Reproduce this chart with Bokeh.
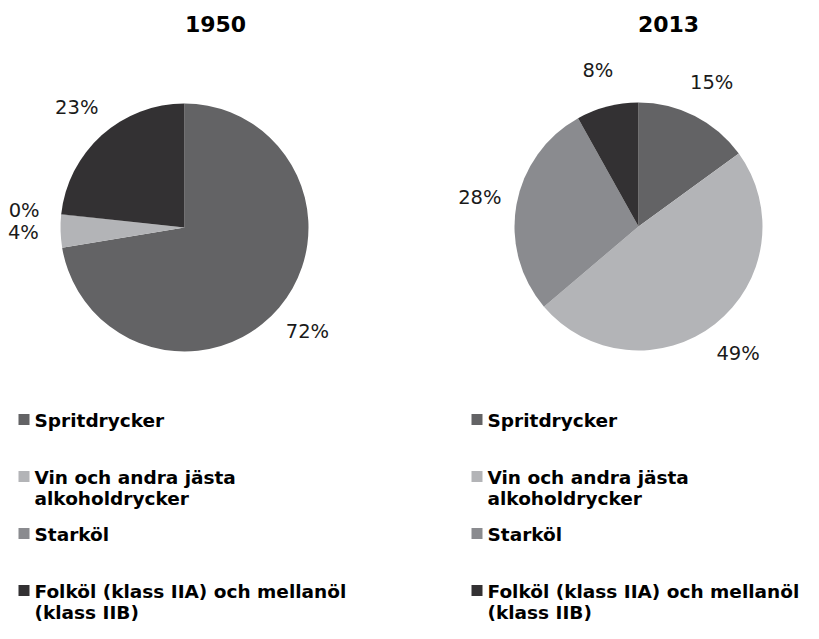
import math
import textwrap
from bokeh.plotting import figure
from bokeh.models import Range1d
from bokeh.core.properties import value
from bokeh.embed import file_html
from bokeh.resources import INLINE

# ---- data ----
categories = ["Spritdrycker", "Vin och andra jästa alkoholdrycker", "Starköl",
              "Folköl (klass IIA) och mellanöl (klass IIB)"]
years = ["1950", "2013"]
shares_1950 = [72.4, 4.2, 0.1, 23.3]
shares_2013 = [15.0, 48.8, 28.1, 8.1]
colors = ["#636365", "#b3b4b7", "#8a8b8f", "#333133"]

W, H = 803, 623
FONT = "DejaVu Sans"

p = figure(width=W, height=H, x_range=Range1d(0, W), y_range=Range1d(-H, 0),
           output_backend="svg", toolbar_location=None, min_border=0)
p.axis.visible = False
p.grid.visible = False
p.outline_line_color = None
p.background_fill_color = "white"
p.border_fill_color = "white"

R = 124
pies = [(years[0], shares_1950, 184, 227, 215), (years[1], shares_2013, 638, 226, 668)]
legend_x = [18, 471]

for idx, (yr, shares, cx, cy, tx) in enumerate(pies):
    total = sum(shares)
    cum = 0.0
    starts, ends, lx, ly, lt = [], [], [], [], []
    for s in shares:
        a0 = cum / total
        a1 = (cum + s) / total
        cum += s
        starts.append(math.pi / 2 - 2 * math.pi * a0)
        ends.append(math.pi / 2 - 2 * math.pi * a1)
        mid = 2 * math.pi * (a0 + a1) / 2
        d = 1.3 * R
        lx.append(cx + d * math.sin(mid))
        ly.append(-(cy - d * math.cos(mid)))
        lt.append(f"{round(s)}%")
    p.wedge(x=[cx] * len(shares), y=[-cy] * len(shares), radius=R,
            start_angle=starts, end_angle=ends, direction="clock",
            fill_color=colors, line_color=None)
    p.text(x=lx, y=ly, text=lt, text_align="center", text_baseline="middle",
           text_font=value(FONT), text_font_size="19.5px", text_color="#1a1a1a")
    # title
    p.text(x=[tx], y=[-23], text=[yr], text_align="center", text_baseline="middle",
           text_font=value(FONT), text_font_size="22px", text_font_style="bold",
           text_color="#000000")
    # legend
    sx = legend_x[idx]
    sq_x, sq_y, tx_, ty_, tt_ = [], [], [], [], []
    for i, cat in enumerate(categories):
        row_y = 420 + i * 57
        sq_x.append(sx + 5.5)
        sq_y.append(-(row_y - 1))
        for j, line in enumerate(textwrap.wrap(cat, 31)):
            tx_.append(sx + 16)
            ty_.append(-(row_y + j * 21))
            tt_.append(line)
    p.rect(x=sq_x, y=sq_y, width=11, height=11, fill_color=colors, line_color=None)
    p.text(x=tx_, y=ty_, text=tt_, text_align="left", text_baseline="middle",
           text_font=value(FONT), text_font_size="18.5px", text_font_style="bold",
           text_color="#000000")

open("out.html", "w").write(file_html(p, INLINE))
